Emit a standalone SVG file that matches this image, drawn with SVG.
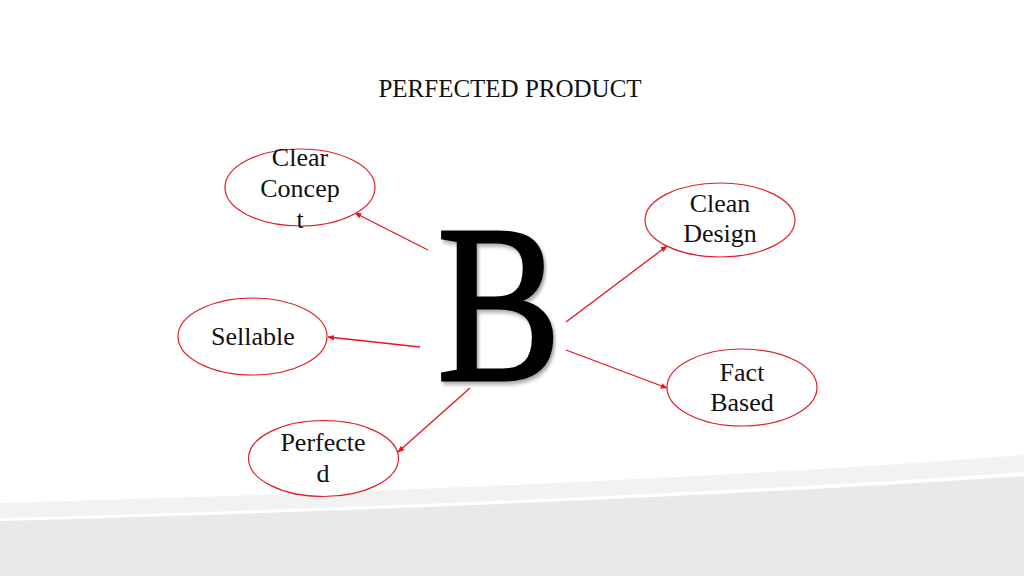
<svg xmlns="http://www.w3.org/2000/svg" width="1024" height="576" viewBox="0 0 1024 576">
<style>
.node ellipse{fill:#fff;stroke:#e0202a;stroke-width:1.2}
.lbl{font-family:"Liberation Serif","DejaVu Serif",serif;font-size:26px;fill:#111;text-anchor:middle}
.conn line{stroke:#e8141e;stroke-width:1.3;marker-end:url(#ah)}
</style>
<defs>
<marker id="ah" viewBox="0 0 10 10" refX="9" refY="5" markerWidth="7" markerHeight="7" orient="auto" markerUnits="userSpaceOnUse">
<path d="M0,1 L10,5 L0,9 z" fill="#e8141e"/>
</marker>
<filter id="sh" x="-10%" y="-10%" width="130%" height="130%">
<feGaussianBlur in="SourceAlpha" stdDeviation="2"/>
<feOffset dx="3" dy="3"/>
<feComponentTransfer><feFuncA type="linear" slope="0.35"/></feComponentTransfer>
<feMerge><feMergeNode/><feMergeNode in="SourceGraphic"/></feMerge>
</filter>
</defs>
<rect width="1024" height="576" fill="#fff"/>
<g id="background">
<path d="M0,503 C300,495 700,480 1024,455 L1024,576 L0,576 Z" fill="#f2f2f2"/>
<path d="M0,518 C300,510 700,495 1024,472 L1024,576 L0,576 Z" fill="#fff"/>
<path d="M0,521 C300,513 700,498 1024,476 L1024,576 L0,576 Z" fill="#e9e9e9"/>
</g>
<text id="title" x="510" y="97" font-family="Liberation Serif, serif" font-size="25" fill="#111" text-anchor="middle">PERFECTED PRODUCT</text>
<g id="center">
<text x="0" y="0" transform="translate(499,380) scale(0.83,1)" font-family="Liberation Serif, serif" font-size="224" fill="#000" stroke="#000" stroke-width="3" text-anchor="middle" filter="url(#sh)">B</text>
</g>
<g id="connectors" class="conn">
<line x1="428" y1="250" x2="355" y2="213"/>
<line x1="566" y1="322" x2="667" y2="246"/>
<line x1="420" y1="347" x2="328" y2="337"/>
<line x1="470" y1="388" x2="398" y2="452"/>
<line x1="566" y1="350" x2="667" y2="388"/>
</g>
<g id="n-clear-concept" class="node">
<ellipse cx="300" cy="187.5" rx="75" ry="38.5"/>
<text class="lbl" x="300" y="166">Clear</text>
<text class="lbl" x="300" y="197">Concep</text>
<text class="lbl" x="300" y="228">t</text>
</g>
<g id="n-clean-design" class="node">
<ellipse cx="720" cy="220" rx="75" ry="37"/>
<text class="lbl" x="720" y="212">Clean</text>
<text class="lbl" x="720" y="242">Design</text>
</g>
<g id="n-sellable" class="node">
<ellipse cx="252.5" cy="336.5" rx="74.5" ry="38.5"/>
<text class="lbl" x="253" y="345">Sellable</text>
</g>
<g id="n-perfected" class="node">
<ellipse cx="323.5" cy="458.5" rx="75" ry="38"/>
<text class="lbl" x="323" y="451">Perfecte</text>
<text class="lbl" x="323" y="482">d</text>
</g>
<g id="n-fact-based" class="node">
<ellipse cx="742" cy="387.5" rx="75" ry="38.5"/>
<text class="lbl" x="742" y="381">Fact</text>
<text class="lbl" x="742" y="411">Based</text>
</g>
</svg>
